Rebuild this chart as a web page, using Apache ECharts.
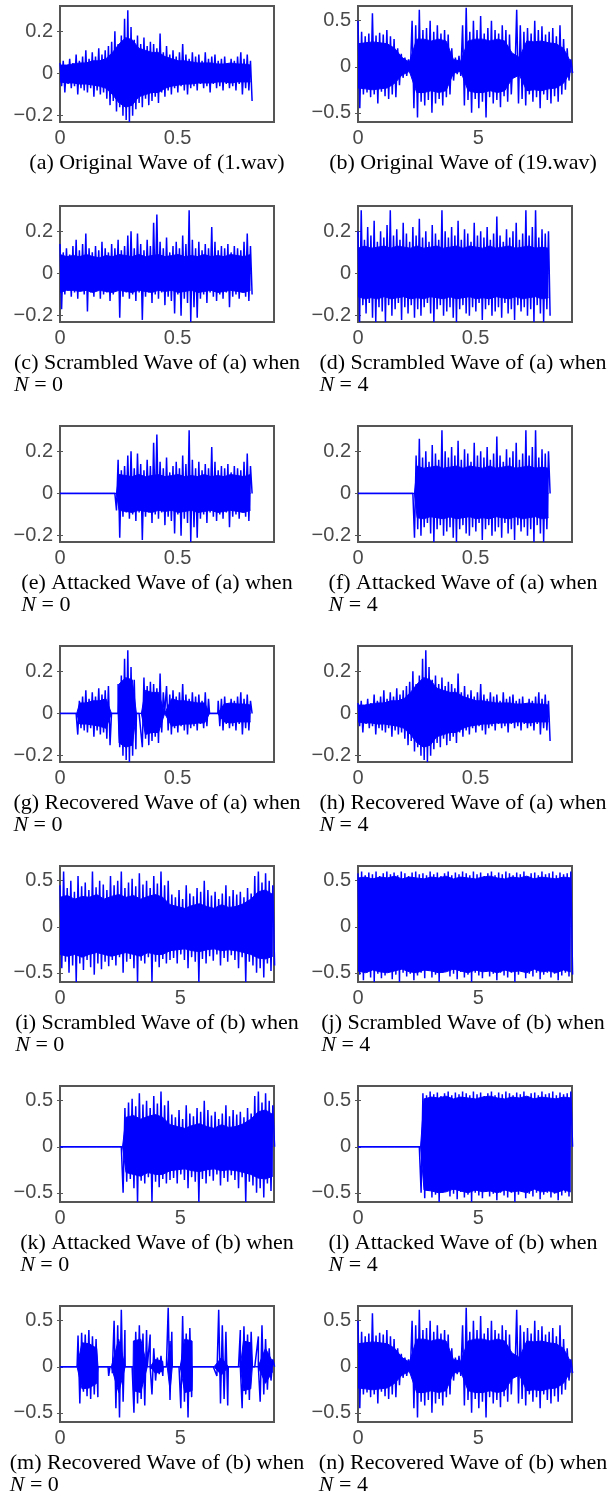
<!DOCTYPE html>
<html>
<head>
<meta charset="utf-8">
<script src="https://cdn.jsdelivr.net/npm/echarts@6.0.0/dist/echarts.min.js"></script>
<style>
  html, body { margin: 0; padding: 0; background: #fff; }
  #chart { width: 615px; height: 1500px; }
</style>
</head>
<body>
<div id="chart"></div>
<script>
// tick labels
var xTicksA = [0, 0.5];
var xTicksB = [0, 5];
var yTicksA = [-0.2, 0, 0.2];
var yTicksB = [-0.5, 0, 0.5];

// captions, one per panel (a..n)
var captions = [
  '(a) Original Wave of (1.wav)', '(b) Original Wave of (19.wav)',
  '(c) Scrambled Wave of (a) when', '(d) Scrambled Wave of (a) when',
  '(e) Attacked Wave of (a) when', '(f) Attacked Wave of (a) when',
  '(g) Recovered Wave of (a) when', '(h) Recovered Wave of (a) when',
  '(i) Scrambled Wave of (b) when', '(j) Scrambled Wave of (b) when',
  '(k) Attacked Wave of (b) when', '(l) Attacked Wave of (b) when',
  '(m) Recovered Wave of (b) when', '(n) Recovered Wave of (b) when'
];
var nValues = [null, null, 0, 4, 0, 4, 0, 4, 0, 4, 0, 4, 0, 4];

// peak envelopes (max / min), 60 points over the signal
var upA = [0.05,0.06,0.04,0.07,0.05,0.09,0.06,0.08,
  0.11,0.07,0.1,0.08,0.12,0.09,0.11,
  0.13,0.15,0.2,0.14,0.18,0.26,0.3,0.22,
  0.16,0.18,0.14,0.17,0.13,0.15,0.14,0.12,
  0.19,0.1,0.13,0.09,0.11,0.08,0.1,0.14,0.09,0.07,
  0.1,0.08,0.09,0.06,0.1,0.07,0.08,0.09,0.06,0.07,0.08,0.05,0.07,0.06,0.08,0.1,0.07,0.09,0.06];
var loA = [-0.06,-0.09,-0.05,-0.07,-0.06,-0.1,-0.07,-0.08,
  -0.09,-0.07,-0.11,-0.08,-0.1,-0.09,-0.12,
  -0.15,-0.13,-0.18,-0.16,-0.2,-0.22,-0.23,-0.2,
  -0.17,-0.14,-0.16,-0.12,-0.15,-0.13,-0.11,-0.14,
  -0.09,-0.11,-0.08,-0.1,-0.07,-0.09,-0.06,-0.08,-0.1,-0.07,
  -0.06,-0.08,-0.05,-0.07,-0.06,-0.09,-0.05,-0.07,-0.06,-0.08,-0.05,-0.07,-0.06,-0.08,-0.05,-0.1,-0.07,-0.08,-0.13];

var upB = [0.5,0.38,0.33,0.36,0.58,0.34,0.37,0.35,0.4,0.33,0.3,
  0.2,0.14,0.1,0.08,
  0.5,0.45,0.62,0.4,0.42,0.5,0.38,0.45,0.36,0.4,0.35,
  0.2,0.1,0.12,
  0.45,0.64,0.38,0.5,0.4,0.55,0.36,0.42,0.5,0.4,0.36,0.45,0.4,0.35,0.12,
  0.62,
  0.45,0.38,0.42,0.36,0.5,0.4,0.44,0.35,0.38,0.42,0.33,0.45,0.3,0.2,0.08];
var loB = [-0.45,-0.3,-0.28,-0.33,-0.3,-0.4,-0.27,-0.32,-0.35,-0.3,-0.33,
  -0.2,-0.12,-0.1,-0.07,
  -0.45,-0.55,-0.38,-0.42,-0.36,-0.5,-0.4,-0.35,-0.42,-0.33,-0.3,
  -0.15,-0.08,-0.1,
  -0.42,-0.36,-0.5,-0.35,-0.45,-0.38,-0.55,-0.33,-0.4,-0.36,-0.44,-0.32,-0.38,-0.3,-0.1,
  -0.4,
  -0.35,-0.42,-0.3,-0.38,-0.33,-0.45,-0.3,-0.36,-0.4,-0.32,-0.38,-0.3,-0.25,-0.15,-0.07];

var upC = [0.14,0.1,0.12,0.09,0.13,0.16,0.11,0.14,0.19,0.12,0.1,0.13,0.11,0.15,0.12,0.1,0.14,0.12,0.16,0.11,
  0.13,0.18,0.2,0.12,0.19,0.14,0.11,0.16,0.13,0.24,0.28,0.15,0.12,0.17,0.1,0.13,0.15,0.12,0.18,0.14,
  0.3,0.16,0.12,0.15,0.11,0.14,0.12,0.22,0.15,0.11,0.13,0.12,0.14,0.1,0.13,0.12,0.11,0.15,0.19,0.13];
var loC = [-0.17,-0.1,-0.08,-0.11,-0.09,-0.12,-0.08,-0.1,-0.18,-0.09,-0.11,-0.08,-0.12,-0.1,-0.09,-0.13,-0.1,-0.08,-0.21,-0.11,
  -0.09,-0.12,-0.1,-0.13,-0.09,-0.22,-0.11,-0.09,-0.14,-0.1,-0.12,-0.09,-0.15,-0.11,-0.13,-0.19,-0.1,-0.2,-0.12,-0.14,
  -0.23,-0.16,-0.21,-0.12,-0.1,-0.14,-0.09,-0.11,-0.13,-0.1,-0.12,-0.09,-0.16,-0.11,-0.1,-0.12,-0.09,-0.11,-0.13,-0.1];

var upD = [0.2,0.3,0.16,0.22,0.18,0.25,0.15,0.2,0.17,0.23,0.3,0.18,0.21,0.16,0.24,0.19,0.15,0.22,0.18,0.26,
  0.17,0.2,0.15,0.23,0.19,0.16,0.3,0.2,0.17,0.22,0.18,0.25,0.16,0.21,0.19,0.15,0.24,0.18,0.2,0.17,
  0.22,0.16,0.19,0.27,0.18,0.15,0.21,0.17,0.2,0.24,0.16,0.19,0.3,0.18,0.22,0.3,0.17,0.21,0.19,0.2];
var loD = [-0.23,-0.15,-0.19,-0.14,-0.21,-0.23,-0.16,-0.18,-0.23,-0.15,-0.2,-0.17,-0.14,-0.22,-0.16,-0.19,-0.15,-0.21,-0.17,-0.2,
  -0.16,-0.14,-0.19,-0.23,-0.17,-0.15,-0.2,-0.18,-0.16,-0.21,-0.23,-0.17,-0.15,-0.19,-0.2,-0.16,-0.18,-0.14,-0.22,-0.17,
  -0.15,-0.2,-0.18,-0.16,-0.21,-0.14,-0.19,-0.17,-0.22,-0.15,-0.18,-0.16,-0.2,-0.17,-0.23,-0.15,-0.19,-0.23,-0.17,-0.2];

var upI = [0.45,0.6,0.42,0.5,0.38,0.55,0.44,0.48,0.4,0.6,0.43,0.5,0.46,0.4,
  0.55,0.45,0.5,0.6,0.42,0.48,0.52,0.44,0.58,0.46,0.5,0.42,0.55,0.47,0.6,0.45,0.5,
  0.35,0.32,0.4,0.3,0.45,0.36,0.33,0.42,0.38,0.5,
  0.4,0.34,0.38,0.3,0.36,0.45,0.33,0.4,0.35,0.38,0.32,0.42,0.36,
  0.55,0.6,0.48,0.58,0.5,0.45];
var loI = [-0.45,-0.38,-0.5,-0.42,-0.6,-0.4,-0.47,-0.36,-0.44,-0.52,-0.4,-0.46,-0.38,-0.43,
  -0.36,-0.42,-0.33,-0.5,-0.38,-0.35,-0.45,-0.6,-0.37,-0.4,-0.33,-0.6,-0.38,-0.44,-0.35,-0.4,-0.36,
  -0.34,-0.4,-0.3,-0.36,-0.45,-0.33,-0.38,-0.6,-0.35,-0.4,
  -0.32,-0.37,-0.3,-0.42,-0.34,-0.38,-0.31,-0.36,-0.45,-0.33,-0.6,-0.38,-0.42,
  -0.5,-0.45,-0.55,-0.4,-0.48,-0.42];

var upJ = [0.58,0.6,0.56,0.59,0.57,0.6,0.55,0.58,0.6,0.57,0.59,0.56,0.6,0.58,0.55,0.59,0.6,0.57,0.58,0.56,
  0.6,0.57,0.59,0.55,0.58,0.6,0.56,0.59,0.57,0.6,0.58,0.56,0.6,0.57,0.59,0.55,0.58,0.6,0.56,0.59,
  0.57,0.6,0.58,0.56,0.59,0.57,0.6,0.55,0.58,0.59,0.56,0.6,0.57,0.58,0.6,0.56,0.59,0.57,0.58,0.6];
var loJ = [-0.52,-0.58,-0.5,-0.55,-0.6,-0.51,-0.56,-0.53,-0.49,-0.57,-0.52,-0.6,-0.5,-0.54,-0.51,-0.58,-0.53,-0.5,-0.56,-0.48,
  -0.55,-0.52,-0.6,-0.5,-0.47,-0.54,-0.51,-0.57,-0.49,-0.55,-0.52,-0.6,-0.5,-0.53,-0.56,-0.49,-0.54,-0.51,-0.58,-0.5,
  -0.53,-0.55,-0.5,-0.6,-0.52,-0.49,-0.56,-0.51,-0.54,-0.5,-0.57,-0.52,-0.5,-0.55,-0.51,-0.58,-0.53,-0.5,-0.54,-0.52];

// solid body of each wave (upper / lower edge of the dense part), 30 points
var bodyUpA = [0.04,0.04,0.045,0.05,0.05,0.06,0.06,0.07,0.1,0.14,0.17,0.16,0.12,0.11,0.1,
  0.1,0.08,0.07,0.06,0.06,0.055,0.05,0.05,0.05,0.045,0.045,0.05,0.045,0.045,0.04];
var bodyLoA = [-0.04,-0.045,-0.045,-0.05,-0.05,-0.055,-0.06,-0.07,-0.1,-0.14,-0.16,-0.15,-0.11,-0.1,-0.09,
  -0.09,-0.07,-0.06,-0.055,-0.05,-0.05,-0.045,-0.045,-0.045,-0.04,-0.04,-0.045,-0.04,-0.04,-0.04];
var bodyUpB = [0.25,0.26,0.27,0.26,0.25,0.2,0.1,0.05,0.3,0.3,0.28,0.3,0.28,0.08,0.06,
  0.28,0.3,0.3,0.28,0.3,0.28,0.15,0.1,0.28,0.27,0.28,0.26,0.25,0.2,0.05];
var bodyLoB = [-0.23,-0.24,-0.25,-0.24,-0.23,-0.18,-0.09,-0.05,-0.28,-0.28,-0.26,-0.28,-0.26,-0.07,-0.05,
  -0.26,-0.28,-0.28,-0.26,-0.28,-0.26,-0.13,-0.09,-0.26,-0.25,-0.26,-0.24,-0.23,-0.18,-0.05];
var bodyUpC = [0.09,0.08,0.085,0.08,0.09,0.08,0.075,0.085,0.08,0.09,0.085,0.08,0.09,0.08,0.085,
  0.09,0.08,0.085,0.09,0.08,0.085,0.08,0.09,0.08,0.085,0.08,0.09,0.085,0.08,0.09];
var bodyLoC = [-0.09,-0.08,-0.08,-0.085,-0.08,-0.09,-0.08,-0.085,-0.09,-0.08,-0.085,-0.09,-0.08,-0.085,-0.09,
  -0.08,-0.085,-0.08,-0.09,-0.085,-0.08,-0.09,-0.085,-0.08,-0.09,-0.085,-0.08,-0.085,-0.09,-0.08];
var bodyUpD = [0.12,0.13,0.12,0.125,0.13,0.12,0.13,0.125,0.12,0.13,0.12,0.125,0.13,0.12,0.125,
  0.13,0.12,0.13,0.125,0.12,0.13,0.12,0.125,0.13,0.12,0.125,0.13,0.12,0.125,0.12];
var bodyLoD = [-0.11,-0.12,-0.115,-0.12,-0.11,-0.12,-0.115,-0.11,-0.12,-0.115,-0.12,-0.11,-0.115,-0.12,-0.11,
  -0.12,-0.115,-0.11,-0.12,-0.115,-0.12,-0.11,-0.115,-0.12,-0.11,-0.12,-0.115,-0.11,-0.12,-0.115];
var bodyUpI = [0.32,0.34,0.3,0.33,0.32,0.35,0.3,0.33,0.35,0.32,0.34,0.3,0.33,0.35,0.32,
  0.24,0.22,0.2,0.23,0.25,0.22,0.2,0.24,0.21,0.22,0.25,0.3,0.38,0.4,0.35];
var bodyLoI = [-0.3,-0.32,-0.3,-0.33,-0.3,-0.28,-0.3,-0.32,-0.3,-0.28,-0.3,-0.32,-0.28,-0.3,-0.3,
  -0.26,-0.25,-0.24,-0.26,-0.27,-0.25,-0.24,-0.26,-0.25,-0.26,-0.28,-0.3,-0.34,-0.35,-0.32];
var bodyUpJ = [0.53,0.54,0.52,0.54,0.53,0.55,0.52,0.54,0.53,0.52,0.54,0.53,0.55,0.52,0.54,
  0.53,0.52,0.54,0.55,0.53,0.52,0.54,0.53,0.55,0.52,0.54,0.53,0.52,0.54,0.53];
var bodyLoJ = [-0.48,-0.5,-0.47,-0.49,-0.5,-0.48,-0.46,-0.49,-0.5,-0.47,-0.48,-0.5,-0.49,-0.46,-0.48,
  -0.5,-0.47,-0.49,-0.48,-0.5,-0.47,-0.49,-0.48,-0.5,-0.46,-0.49,-0.48,-0.5,-0.47,-0.49];

// signal lengths (s)
var endA = 0.81, endB = 8.85;

// time spans where the signal is kept (others are zero)
var attackA = [[0.24, 0.81]];
var attackB = [[2.6, 8.85]];
var recoveredG = [[0.071, 0.219], [0.247, 0.325], [0.346, 0.445], [0.452, 0.636], [0.671, 0.81]];
var recoveredM = [[0.71, 1.58], [2.0, 2.08], [2.17, 2.71], [3.04, 3.63], [3.75, 4.29], [4.46, 4.67],
  [5.0, 5.5], [6.46, 7.0], [7.5, 8.0], [8.25, 8.85]];

var waveA = {up: upA, lo: loA, bUp: bodyUpA, bLo: bodyLoA};
var waveB = {up: upB, lo: loB, bUp: bodyUpB, bLo: bodyLoB};
var waveC = {up: upC, lo: loC, bUp: bodyUpC, bLo: bodyLoC};
var waveD = {up: upD, lo: loD, bUp: bodyUpD, bLo: bodyLoD};
var waveI = {up: upI, lo: loI, bUp: bodyUpI, bLo: bodyLoI};
var waveJ = {up: upJ, lo: loJ, bUp: bodyUpJ, bLo: bodyLoJ};

var panels = [
  {w: waveA, kind: 'a', keep: null}, {w: waveB, kind: 'b', keep: null},
  {w: waveC, kind: 'a', keep: null}, {w: waveD, kind: 'a', keep: null},
  {w: waveC, kind: 'a', keep: attackA}, {w: waveD, kind: 'a', keep: attackA},
  {w: waveA, kind: 'a', keep: recoveredG}, {w: waveA, kind: 'a', keep: null},
  {w: waveI, kind: 'b', keep: null}, {w: waveJ, kind: 'b', keep: null},
  {w: waveI, kind: 'b', keep: attackB}, {w: waveJ, kind: 'b', keep: attackB},
  {w: waveB, kind: 'b', keep: recoveredM}, {w: waveB, kind: 'b', keep: null}
];

var rowTop = [6, 206, 426, 646, 866, 1086, 1306];
var colLeft = [60, 358];
var capCenter = [157, 463];
var CAP_FONT = '22px "Liberation Serif"';
var LABEL_COLOR = '#4a4a4a';
var BOX_COLOR = '#555';
var WAVE = '#0000ff';

function inside(t, keep) {
  if (!keep) return true;
  for (var k = 0; k < keep.length; k++) {
    if (t >= keep[k][0] && t <= keep[k][1]) return true;
  }
  return false;
}

function withCuts(pts, end, keep) {
  if (!keep) return pts;
  keep.forEach(function (iv) {
    pts.push([iv[0], 0]);
    if (iv[1] < end - 1e-6) pts.push([iv[1], 0]);
  });
  pts.sort(function (p, q) { return p[0] - q[0]; });
  return pts;
}

// one envelope as [t, value]; zero where the signal was cut
function envPoints(vals, end, keep) {
  var n = vals.length, h = end / (n - 1), pts = [];
  for (var k = 0; k < n; k++) {
    var t = k * h;
    pts.push([t, inside(t, keep) ? vals[k] : 0]);
  }
  return withCuts(pts, end, keep);
}

// zig-zag between max and min peaks: gives the spiky fringe
function zigPoints(up, lo, end, keep) {
  var n = up.length, h = end / (n - 1), pts = [];
  for (var k = 0; k < 2 * n; k++) {
    var t = k * h / 2;
    var v = k % 2 === 0 ? up[k / 2] : lo[(k - 1) / 2];
    pts.push([t, inside(t, keep) ? v : 0]);
  }
  return withCuts(pts, end, keep);
}

function minusFmt(v) { return String(v).replace('-', '\u2212'); }

var chart = echarts.init(document.getElementById('chart'), null, {renderer: 'canvas'});
var ctx = document.createElement('canvas').getContext('2d');
ctx.font = CAP_FONT;

var grids = [], xAxes = [], yAxes = [], series = [], graphics = [];

panels.forEach(function (p, i) {
  var col = i % 2, row = Math.floor(i / 2);
  var isA = p.kind === 'a';
  var xTicks = isA ? xTicksA : xTicksB;
  var yTicks = isA ? yTicksA : yTicksB;
  var end = isA ? endA : endB;

  grids.push({
    left: colLeft[col], top: rowTop[row], width: 214, height: 116,
    show: true, borderColor: BOX_COLOR, borderWidth: 2,
    outerBoundsMode: 'none'
  });

  ['bottom', 'top'].forEach(function (pos) {
    xAxes.push({
      gridIndex: i, type: 'value', position: pos,
      min: 0, max: isA ? 0.91 : 8.9,
      axisLine: {show: false},
      splitLine: {show: false},
      axisTick: {show: true, inside: true, length: 3, customValues: xTicks,
        lineStyle: {color: BOX_COLOR}},
      axisLabel: {show: pos === 'bottom', customValues: xTicks, margin: 6,
        fontSize: 20, fontFamily: 'Liberation Sans', color: LABEL_COLOR}
    });
  });
  ['left', 'right'].forEach(function (pos) {
    yAxes.push({
      gridIndex: i, type: 'value', position: pos,
      min: isA ? -0.23 : -0.6, max: isA ? 0.32 : 0.66,
      axisLine: {show: false},
      splitLine: {show: false},
      axisTick: {show: true, inside: true, length: 3, customValues: yTicks,
        lineStyle: {color: BOX_COLOR}},
      axisLabel: {show: pos === 'left', customValues: yTicks, margin: 7,
        fontSize: 20, fontFamily: 'Liberation Sans', color: LABEL_COLOR,
        formatter: minusFmt}
    });
  });

  // dense body: upper and lower edge, each filled to the zero line
  [[p.w.bUp, -0.003], [p.w.bLo, 0.003]].forEach(function (b) {
    series.push({
      type: 'line',
      xAxisIndex: 2 * i, yAxisIndex: 2 * i,
      data: envPoints(b[0], end, p.keep),
      showSymbol: false, symbol: 'none',
      lineStyle: {color: WAVE, width: 1},
      areaStyle: {color: WAVE, opacity: 1, origin: b[1]},
      silent: true, animation: false
    });
  });
  // spikes
  series.push({
    type: 'line',
    xAxisIndex: 2 * i, yAxisIndex: 2 * i,
    data: zigPoints(p.w.up, p.w.lo, end, p.keep),
    showSymbol: false, symbol: 'none',
    lineStyle: {color: WAVE, width: 1.5, join: 'bevel'},
    silent: true, animation: false
  });

  // captions
  var capY = rowTop[row] + 157;
  var text = captions[i];
  graphics.push({
    type: 'text', x: capCenter[col], y: capY, silent: true,
    style: {text: text, font: CAP_FONT, fill: '#000',
      textAlign: 'center', align: 'center', textVerticalAlign: 'middle', verticalAlign: 'middle'}
  });
  if (nValues[i] !== null) {
    var w = ctx.measureText(text).width;
    graphics.push({
      type: 'text', x: capCenter[col] - w / 2, y: capY + 22, silent: true,
      style: {text: '{i|N} = ' + nValues[i], font: CAP_FONT, fill: '#000',
        textAlign: 'left', align: 'left', textVerticalAlign: 'middle', verticalAlign: 'middle',
        rich: {i: {fontStyle: 'italic', fontSize: 22, fontFamily: 'Liberation Serif', fill: '#000'}}}
    });
  }
});

chart.setOption({
  animation: false,
  grid: grids,
  xAxis: xAxes,
  yAxis: yAxes,
  series: series,
  graphic: graphics
});
window.onresize = function () { chart.resize(); };
</script>
</body>
</html>
